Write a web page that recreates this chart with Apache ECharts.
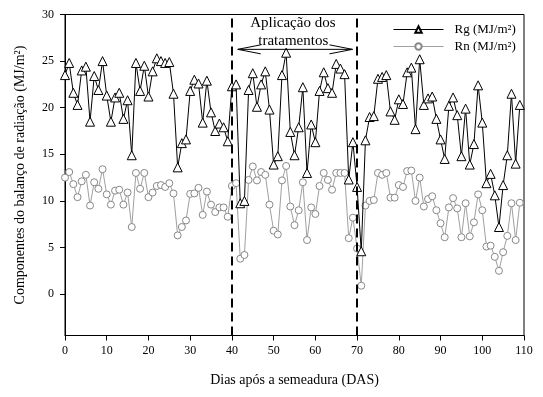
<!DOCTYPE html>
<html>
<head>
<meta charset="utf-8">
<script src="https://cdn.jsdelivr.net/npm/echarts@6/dist/echarts.min.js"></script>
<style>
html,body{margin:0;padding:0;background:#fff;}
#c{width:543px;height:397px;}
</style>
</head>
<body>
<div id="c"></div>
<script>
// Rg (MJ/m²), one value per day starting at day 0
const rgValues = [23.5,24.8,21.6,20.3,24.0,24.4,18.5,23.4,21.9,25.0,
  21.3,18.5,21.1,21.6,18.8,20.8,14.9,24.8,21.8,24.5,
  21.2,23.9,25.3,25.0,24.8,24.9,21.5,13.6,16.2,16.6,
  21.8,23.0,22.6,18.4,22.9,19.5,17.5,18.3,17.9,16.4,
  22.3,22.5,9.75,10.0,21.9,23.7,20.1,22.5,23.9,19.8,
  13.9,14.8,23.5,25.9,17.4,14.9,17.9,22.2,13.0,18.2,
  16.3,21.8,23.8,22.1,21.6,24.7,24.2,23.6,12.3,16.3,
  11.5,4.6,16.5,19.0,19.1,23.1,23.3,23.5,19.6,18.7,
  20.9,20.4,23.8,24.3,17.7,25.2,20.3,21.0,21.2,18.8,
  16.6,14.5,20.2,21.1,19.2,14.8,19.9,13.9,16.1,22.4,
  18.4,11.9,12.9,10.6,7.2,11.7,14.9,21.5,14.0,20.3];
// Rn (MJ/m²), one value per day starting at day 0
const rnValues = [12.5,13.1,11.8,10.4,12.1,12.8,9.5,12.0,11.3,13.4,
  10.7,9.6,11.1,11.2,9.6,10.9,7.2,13.0,11.3,13.0,
  10.4,10.9,11.6,11.7,11.5,11.9,10.8,6.3,7.2,7.9,
  10.75,10.8,11.4,8.5,11.0,9.6,8.8,9.3,9.3,8.3,
  11.6,11.9,3.8,4.2,12.25,13.7,12.2,13.1,12.8,9.6,
  6.8,6.4,12.2,13.75,9.4,7.4,9.0,12.0,5.8,9.3,
  8.6,11.6,13.0,12.25,11.2,13.0,13.0,13.0,6.0,8.2,
  4.9,0.9,9.5,10.0,10.1,13.0,12.8,13.0,10.35,10.35,
  11.7,11.5,13.2,13.25,10.0,12.5,9.4,10.2,10.5,9.0,
  7.6,6.1,9.3,10.3,9.2,6.1,9.75,6.2,7.7,10.7,
  9.0,5.1,5.2,4.0,2.5,4.5,6.25,9.75,5.8,9.8];
const firstDay = 0;
const xTicks = [0,10,20,30,40,50,60,70,80,90,100,110];
const yTicks = [0,5,10,15,20,25,30];
const treatmentStart = 40;
const treatmentEnd = 70;
const seriesNames = ['Rg (MJ/m²)', 'Rn (MJ/m²)'];
const annotationLines = ['Aplicação dos', 'tratamentos'];

const font = '"Liberation Serif", "Times New Roman", serif';
const rgData = rgValues.map((v, i) => [firstDay + i, v]);
const rnData = rnValues.map((v, i) => [firstDay + i, v]);

const chart = echarts.init(document.getElementById('c'), null, {renderer: 'canvas'});
chart.setOption({
  animation: false,
  backgroundColor: '#fff',
  grid: {left: 65, right: 19, top: 14.5, bottom: 61.5, show: true, borderColor: '#000', borderWidth: 1, backgroundColor: 'transparent'},
  legend: {
    orient: 'vertical', left: 388, top: 18, itemWidth: 50, itemHeight: 8, itemGap: 4,
    lineStyle: {width: 1},
    textStyle: {fontFamily: font, fontSize: 13, color: '#000', padding: [0,0,0,6]},
    data: seriesNames
  },
  xAxis: {
    type: 'value', min: xTicks[0], max: xTicks[xTicks.length-1], interval: 10,
    name: 'Dias após a semeadura (DAS)', nameLocation: 'middle', nameGap: 38,
    nameTextStyle: {fontFamily: font, fontSize: 14, color: '#000'},
    axisLine: {show: true, onZero: false, lineStyle: {color: '#000', width: 1}},
    axisTick: {show: true, length: 5, inside: false, lineStyle: {color: '#000'}},
    axisLabel: {fontFamily: font, fontSize: 12, color: '#000', margin: 9},
    splitLine: {show: false}
  },
  yAxis: {
    type: 'value', min: -4.44, max: 30,
    name: 'Componentes do balanço de radiação (MJ/m²)', nameLocation: 'middle', nameGap: 38,
    nameTextStyle: {fontFamily: font, fontSize: 14, color: '#000'},
    axisLine: {show: true, onZero: false, lineStyle: {color: '#000', width: 1}},
    axisTick: {show: true, length: 5, inside: false, lineStyle: {color: '#000'}, customValues: yTicks},
    axisLabel: {fontFamily: font, fontSize: 12, color: '#000', margin: 11, customValues: yTicks},
    splitLine: {show: false}
  },
  series: [
    {
      name: seriesNames[0], type: 'line', data: rgData,
      symbol: 'triangle', symbolSize: 9, showAllSymbol: true,
      lineStyle: {color: '#000', width: 1},
      itemStyle: {color: '#fff', borderColor: '#000', borderWidth: 1},
      z: 3,
      markLine: {
        silent: true, symbol: ['none','none'], label: {show: false},
        lineStyle: {color: '#000', type: [9,5], width: 2},
        data: [{xAxis: treatmentStart}, {xAxis: treatmentEnd}]
      }
    },
    {
      name: seriesNames[1], type: 'line', data: rnData,
      symbol: 'circle', symbolSize: 7, showAllSymbol: true,
      lineStyle: {color: '#a0a0a0', width: 1},
      itemStyle: {color: '#fff', borderColor: '#888', borderWidth: 1},
      z: 2
    }
  ]
});

// annotation placed via data coordinates
const p = (x, y) => chart.convertToPixel({gridIndex: 0}, [x, y]);
const a1 = p(41.4, 26.26), a2 = p(68.9, 26.26);
const t1 = p(54.6, 29.05), t2 = p(54.7, 27.1);
const ah = 23, aw = 4.5;
chart.setOption({
  graphic: [
    {type: 'text', x: t1[0], y: t1[1], style: {text: annotationLines[0], font: '15px ' + font, fill: '#000', textAlign: 'center', textVerticalAlign: 'middle'}, z: 10},
    {type: 'text', x: t2[0], y: t2[1], style: {text: annotationLines[1], font: '15px ' + font, fill: '#000', textAlign: 'center', textVerticalAlign: 'middle'}, z: 10},
    {type: 'polyline', shape: {points: [a1, a2]}, style: {stroke: '#000', lineWidth: 1, fill: null}, z: 10},
    {type: 'polyline', shape: {points: [[a1[0]+ah, a1[1]-aw], a1, [a1[0]+ah, a1[1]+aw]]}, style: {stroke: '#000', lineWidth: 1, fill: null}, z: 10},
    {type: 'polyline', shape: {points: [[a2[0]-ah, a2[1]-aw], a2, [a2[0]-ah, a2[1]+aw]]}, style: {stroke: '#000', lineWidth: 1, fill: null}, z: 10}
  ]
});
</script>
</body>
</html>
